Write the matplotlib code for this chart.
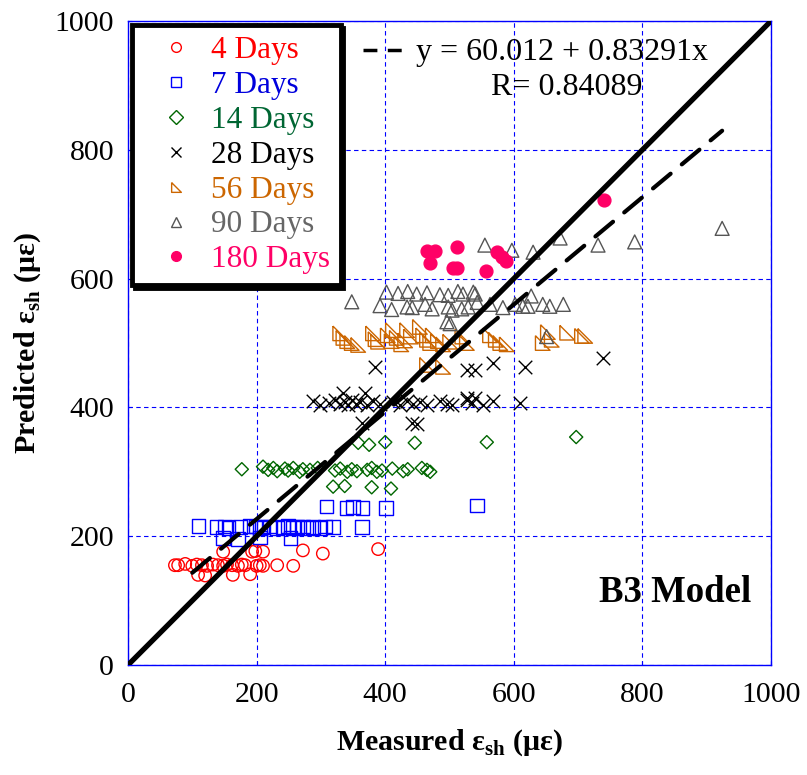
import numpy as np
import matplotlib
matplotlib.use("Agg")
from matplotlib import pyplot as plt
from matplotlib.lines import Line2D

plt.rcParams['font.family'] = 'serif'
plt.rcParams['font.serif'] = ['Liberation Serif', 'DejaVu Serif']
plt.rcParams['mathtext.fontset'] = 'custom'
plt.rcParams['mathtext.rm'] = 'Liberation Serif'
plt.rcParams['mathtext.bf'] = 'Liberation Serif:bold'

# measured / predicted shrinkage strain (micro-strain)
d4_x = [73, 78, 89, 100, 107, 115, 123, 132, 140, 148, 154, 162, 171, 177, 182, 200, 205, 210, 232, 257,
        148, 193, 198, 210, 272, 303, 389, 109, 120, 163, 190]
d4_y = [155, 155, 157, 154, 156, 155, 154, 156, 155, 154, 156, 155, 154, 156, 155, 154, 155, 154, 155, 154,
        176, 176, 177, 176, 178, 173, 180, 140, 139, 140, 141]

d7_x = [110, 138, 151, 156, 174, 190, 198, 205, 208, 221, 232, 241, 249, 257, 263, 272, 280, 288, 299, 306,
        319, 364, 148, 171, 205, 253, 309, 340, 350, 365, 401, 543]
d7_y = [216, 214, 215, 213, 214, 216, 215, 213, 214, 215, 213, 214, 216, 213, 214, 215, 213, 214, 213, 215,
        214, 214, 197, 196, 198, 197, 246, 244, 245, 244, 244, 248]

d14_x = [177, 210, 218, 226, 232, 244, 249, 257, 267, 272, 283, 295, 322, 330, 341, 348, 356, 372, 379, 387,
         395, 411, 428, 435, 457, 465, 470, 319, 337, 379, 409, 358, 375, 400, 446, 558, 697]
d14_y = [304, 308, 303, 306, 301, 305, 302, 306, 300, 304, 303, 306, 302, 305, 300, 304, 301, 303, 306, 300,
         302, 305, 301, 304, 306, 303, 300, 277, 278, 276, 274, 345, 342, 346, 345, 346, 354]

d28_x = [288, 299, 313, 322, 330, 337, 342, 348, 355, 361, 372, 381, 392, 412, 423, 434, 443, 454, 465, 485,
         496, 504, 527, 535, 552, 567, 610, 334, 369, 527, 540, 364, 442, 449, 384, 527, 540, 568, 617, 739]
d28_y = [410, 404, 407, 412, 406, 409, 404, 411, 406, 408, 403, 410, 406, 409, 404, 410, 405, 408, 404, 410,
         405, 403, 411, 407, 403, 410, 407, 422, 422, 414, 414, 376, 376, 374, 463, 458, 458, 469, 463, 477]

d56_x = [330, 335, 341, 348, 358, 381, 385, 389, 404, 410, 412, 418, 425, 431, 434, 440, 454, 459, 465, 470,
         474, 482, 490, 501, 520, 527, 563, 572, 579, 589, 645, 653, 659, 683, 706, 711, 465, 490]
d56_y = [515, 508, 503, 500, 497, 515, 506, 502, 512, 503, 520, 508, 498, 504, 520, 510, 525, 512, 505, 500,
         512, 503, 498, 502, 510, 500, 512, 505, 500, 498, 500, 517, 505, 516, 511, 511, 466, 463]

d90_x = [402, 420, 435, 449, 465, 485, 498, 513, 521, 537, 540,
         348, 392, 410, 434, 442, 462, 473, 498, 504, 519, 529, 543, 563, 583, 602, 614, 622, 645, 656, 677, 627,
         496, 501, 651, 555, 597, 630, 672, 731, 788, 924]
d90_y = [579, 577, 580, 576, 578, 575, 574, 580, 576, 579, 576,
         564, 558, 552, 556, 555, 560, 553, 556, 551, 553, 556, 563, 560, 555, 560, 557, 557, 560, 557, 560, 573,
         533, 530, 510, 652, 644, 641, 663, 652, 657, 678]

d180_x = [465, 477, 512, 470, 505, 512, 557, 574, 581, 588, 740]
d180_y = [643, 643, 649, 624, 616, 616, 612, 641, 634, 627, 722]

intercept = 60.012
slope = 0.83291
r_value = 0.84089

series = [
    ("4 Days", d4_x, d4_y, 'o', '#FF0000', False, 80),
    ("7 Days", d7_x, d7_y, 's', '#0000FF', False, 95),
    ("14 Days", d14_x, d14_y, 'D', '#006600', False, 45),
    ("28 Days", d28_x, d28_y, 'x', '#000000', False, 95),
    ("56 Days", d56_x, d56_y, [(-1, 1), (-1, -1), (1, -1), (-1, 1)], '#CC6600', False, 110),
    ("90 Days", d90_x, d90_y, '^', '#555555', False, 100),
    ("180 Days", d180_x, d180_y, 'o', '#FF0066', True, 85),
]
text_colors = ['#FF0000', '#0000DD', '#006633', '#000000', '#CC6600', '#666666', '#FF0066']

fig = plt.figure(figsize=(8.07, 7.75), dpi=100)
ax = fig.add_axes([0.1586, 0.1419, 0.7968, 0.831])

ax.set_xlim(0, 1000)
ax.set_ylim(0, 1000)
ax.set_xticks(np.arange(0, 1001, 200))
ax.set_yticks(np.arange(0, 1001, 200))
ax.grid(True, color='#0000FF', linestyle=(0, (4, 3)), linewidth=0.8)
ax.set_axisbelow(True)
for sp in ax.spines.values():
    sp.set_color('#0000FF')
    sp.set_linewidth(1.0)
ax.tick_params(direction='in', length=3, color='#0000FF', labelsize=21.5, pad=12)
ax.tick_params(axis='y', pad=10)

handles = []
for label, xs, ys, marker, color, filled, size in series:
    if marker == 'x':
        ax.scatter(xs, ys, marker=marker, s=size, color=color, linewidths=1.0, zorder=3)
    elif filled:
        ax.scatter(xs, ys, marker=marker, s=size, color=color, zorder=3)
    else:
        ax.scatter(xs, ys, marker=marker, s=size, facecolors='none', edgecolors=color, linewidths=1.0, zorder=3)
    handles.append(Line2D([], [], linestyle='none', marker=marker, markersize=7,
                          markerfacecolor=color if filled else 'none', markeredgecolor=color,
                          markeredgewidth=1.0))

# line of equality and the regression fit
ax.plot([0, 1000], [0, 1000], color='black', linewidth=3.8, zorder=4)
fit_x = np.array([100, 924])
ax.plot(fit_x, intercept + slope * fit_x, color='black', linewidth=3.0,
        dashes=(5.5, 3.5), dash_capstyle='round', zorder=4)

ax.plot([0.365, 0.44], [0.955, 0.955], transform=ax.transAxes, color='black', linewidth=2.5,
        dashes=(4, 3), zorder=5)
ax.text(0.675, 0.951, "y = %.3f + %.5fx" % (intercept, slope), transform=ax.transAxes,
        ha='center', va='center', fontsize=23, zorder=5)
ax.text(0.683, 0.896, "R= %.5f" % r_value, transform=ax.transAxes,
        ha='center', va='center', fontsize=23, zorder=5)

leg = ax.legend(handles, [s[0] for s in series], loc='upper left', bbox_to_anchor=(0.007, 0.994),
                borderaxespad=0, fontsize=22.5, handlelength=2.1, handletextpad=0.05,
                labelspacing=0.19, borderpad=0.35, fancybox=False, framealpha=1,
                edgecolor='black', shadow={'color': 'black', 'alpha': 1})
leg.get_frame().set_linewidth(3.5)
for txt, c in zip(leg.get_texts(), text_colors):
    txt.set_color(c)
leg.set_zorder(6)

ax.text(0.851, 0.113, "B3 Model", transform=ax.transAxes, ha='center', va='center',
        fontsize=26.5, fontweight='bold')

ax.set_xlabel(r"Measured ε$_{\mathbf{sh}}$ (με)", fontsize=21.5, fontweight='bold', labelpad=14)
ax.set_ylabel(r"Predicted ε$_{\mathbf{sh}}$ (με)", fontsize=21.5, fontweight='bold', labelpad=8)

fig.savefig("out.png", dpi=100)
